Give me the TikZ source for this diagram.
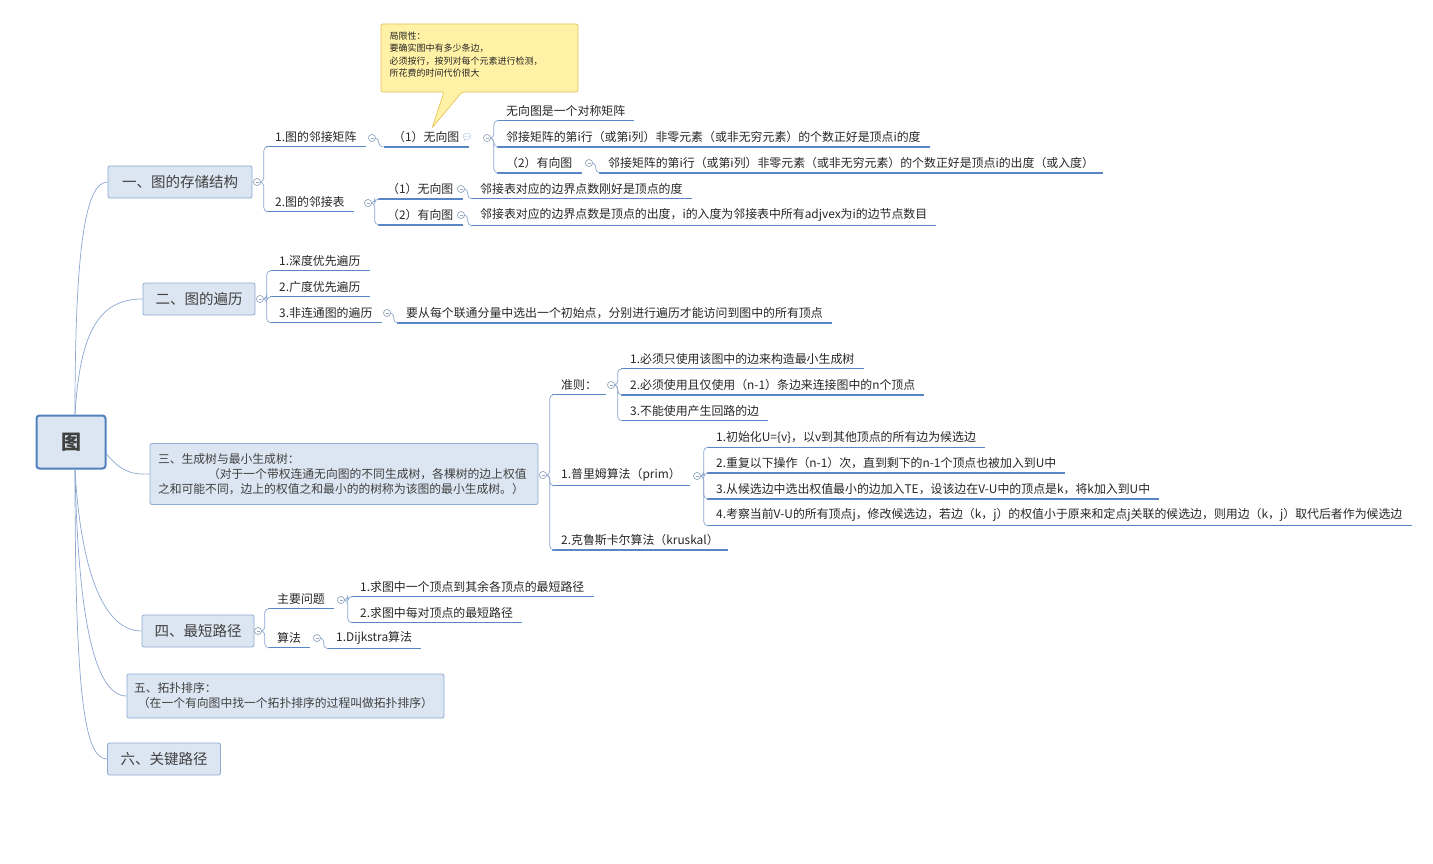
\documentclass[tikz,border=0pt]{standalone}
\usepackage{fontspec}
\setmainfont{Noto Sans CJK SC}
\newfontfamily\emo{Noto Emoji}
\definecolor{bfill}{HTML}{DCE6F2}
\definecolor{bdraw}{HTML}{8EABD3}
\definecolor{rdraw}{HTML}{4F81BD}
\definecolor{lcol}{HTML}{8BA6CF}
\definecolor{ucol}{HTML}{5A85C4}
\definecolor{tcol}{HTML}{97A9C2}
\definecolor{yfill}{HTML}{FFF1A6}
\definecolor{ydraw}{HTML}{E6C35C}
\tikzset{
 topic/.style={draw=bdraw,fill=bfill,rounded corners=2pt,line width=0.8pt,font=\fontsize{14.5}{16}\selectfont,text=black!75,inner xsep=6pt,minimum height=32pt},
 leaf/.style={anchor=west,inner xsep=9pt,inner ysep=4pt,font=\fontsize{11.9}{13}\selectfont,text=black!85},
 uline/.style={draw=ucol,line width=1.4pt},
 conn/.style={draw=lcol,line width=0.7pt,rounded corners=4pt},
 rconn/.style={draw=lcol,line width=0.7pt},
 tog/.style={circle,draw=tcol,line width=0.6pt,minimum size=7pt,inner sep=0pt,fill=white},
}
\newcommand{\ul}[1]{\draw[uline] (#1.south west) -- (#1.south east);}
\newcommand{\cn}[2]{\draw[conn] (#1.east) -- ++(3,0) |- (#2.south west);}
\begin{document}
\begin{tikzpicture}[x=1pt,y=-1pt]
\useasboundingbox (0,0) rectangle (1433,864);
% root
\node[draw=rdraw,fill=bfill,line width=2pt,rounded corners=3pt,minimum width=69pt,minimum height=53pt,font=\fontsize{20}{22}\selectfont\bfseries,text=black!75] (root) at (71,442) {图};
% level 1
\node[topic,minimum width=144pt] (t1) at (180,182) {一、图的存储结构};
\node[topic,minimum width=112pt] (t2) at (199,299) {二、图的遍历};
\node[topic,minimum width=388pt,minimum height=61pt,font=\fontsize{11.8}{15}\selectfont,align=left,text width=372pt,inner xsep=8pt] (t3) at (344,474) {三、生成树与最小生成树：\\\hspace*{50pt}（对于一个带权连通无向图的不同生成树，各棵树的边上权值\\之和可能不同，边上的权值之和最小的的树称为该图的最小生成树。）};
\node[topic,minimum width=112pt] (t4) at (198,631) {四、最短路径};
\node[topic,minimum width=317pt,minimum height=44pt,font=\fontsize{11.8}{15}\selectfont,align=left,text width=303pt] (t5) at (285.5,696) {五、拓扑排序：\\\ （在一个有向图中找一个拓扑排序的过程叫做拓扑排序）};
\node[topic,minimum width=113pt] (t6) at (164,759) {六、关键路径};
\draw[rconn] (root.north) ++(4,0) coordinate (r1) .. controls (75,250) and (85,182) .. (t1.west);
\draw[rconn] (r1) .. controls (80,330) and (100,299) .. (t2.west);
\draw[rconn] (root.east) ++(0,12) coordinate (r3) .. controls (120,470) and (130,475) .. (t3.west);
\draw[rconn] (root.south) ++(4,0) coordinate (r4) .. controls (80,560) and (100,631) .. (t4.west);
\draw[rconn] (r4) .. controls (78,620) and (95,696) .. (t5.west);
\draw[rconn] (r4) .. controls (75,700) and (85,759) .. (t6.west);
% toggles on topics
\node[tog] (c1) at (257,182) {};
\node[tog] (c2) at (260,299) {};
\node[tog] (c3) at (543,475) {};
\node[tog] (c4) at (258,631) {};
% ---- branch 1
\node[leaf] (a1) at (266,137) {1.图的邻接矩阵};
\node[tog] (ca1) at (372,138) {};
\node[leaf] (a11) at (384,137) {（1）无向图};
\node[font=\fontsize{9}{9}\selectfont\emo,text=ucol!80] (ic) at (467,137) {💬};
\node[tog] (ca11) at (487,138) {};
\node[leaf] (a111) at (497,111) {无向图是一个对称矩阵};
\node[leaf] (a112) at (497,137) {邻接矩阵的第i行（或第i列）非零元素（或非无穷元素）的个数正好是顶点i的度};
\node[leaf] (a113) at (497,163) {（2）有向图};
\node[tog] (ca113) at (589,163) {};
\node[leaf] (a1131) at (599,163) {邻接矩阵的第i行（或第i列）非零元素（或非无穷元素）的个数正好是顶点i的出度（或入度）};
\node[leaf] (a2) at (266,202) {2.图的邻接表};
\node[tog] (ca2) at (368,203) {};
\node[leaf] (a21) at (378,189) {（1）无向图};
\node[tog] (ca21) at (461,189) {};
\node[leaf] (a211) at (471,189) {邻接表对应的边界点数刚好是顶点的度};
\node[leaf] (a22) at (378,215) {（2）有向图};
\node[tog] (ca22) at (461,215) {};
\node[leaf] (a221) at (471,215) {邻接表对应的边界点数是顶点的出度，i的入度为邻接表中所有adjvex为i的边节点数目};
\foreach \n in {a1,a11,a111,a112,a113,a1131,a2,a21,a211,a22,a221} {\ul{\n}}
\cn{c1}{a1}\cn{c1}{a2}
\cn{ca1}{a11}
\cn{ca11}{a111}\cn{ca11}{a112}\cn{ca11}{a113}
\cn{ca113}{a1131}
\cn{ca2}{a21}\cn{ca2}{a22}
\cn{ca21}{a211}\cn{ca22}{a221}
% callout
\draw[draw=ydraw,fill=yfill,line width=0.7pt,rounded corners=2pt] (381,24) -- (578,24) -- (578,92) -- (462,92) -- (432,128) -- (444,92) -- (381,92) -- cycle;
\node[anchor=north west,align=left,font=\fontsize{9}{12.5}\selectfont,text=black!85] (note) at (386,28) {局限性：\\要确实图中有多少条边，\\必须按行，按列对每个元素进行检测，\\所花费的时间代价很大};
% ---- branch 2
\node[leaf] (b1) at (270,261) {1.深度优先遍历};
\node[leaf] (b2) at (270,287) {2.广度优先遍历};
\node[leaf] (b3) at (270,313) {3.非连通图的遍历};
\node[tog] (cb3) at (387,313) {};
\node[leaf] (b31) at (397,313) {要从每个联通分量中选出一个初始点，分别进行遍历才能访问到图中的所有顶点};
\foreach \n in {b1,b2,b3,b31} {\ul{\n}}
\cn{c2}{b1}\cn{c2}{b2}\cn{c2}{b3}\cn{cb3}{b31}
% ---- branch 3
\node[leaf] (d1) at (552,385) {准则：};
\node[tog] (cd1) at (611,385) {};
\node[leaf] (d11) at (621,359) {1.必须只使用该图中的边来构造最小生成树};
\node[leaf] (d12) at (621,385) {2.必须使用且仅使用（n-1）条边来连接图中的n个顶点};
\node[leaf] (d13) at (621,411) {3.不能使用产生回路的边};
\node[leaf] (d2) at (552,475) {1.普里姆算法（prim）};
\node[tog] (cd2) at (697,476) {};
\node[leaf] (d21) at (707,437) {1.初始化U=\{v\}，以v到其他顶点的所有边为候选边};
\node[leaf] (d22) at (707,463) {2.重复以下操作（n-1）次，直到剩下的n-1个顶点也被加入到U中};
\node[leaf] (d23) at (707,489) {3.从候选边中选出权值最小的边加入TE，设该边在V-U中的顶点是k，将k加入到U中};
\node[leaf] (d24) at (707,515) {4.考察当前V-U的所有顶点j，修改候选边，若边（k，j）的权值小于原来和定点j关联的候选边，则用边（k，j）取代后者作为候选边};
\node[leaf] (d3) at (552,540) {2.克鲁斯卡尔算法（kruskal）};
\foreach \n in {d1,d11,d12,d13,d2,d21,d22,d23,d24,d3} {\ul{\n}}
\cn{c3}{d1}\cn{c3}{d2}\cn{c3}{d3}
\cn{cd1}{d11}\cn{cd1}{d12}\cn{cd1}{d13}
\cn{cd2}{d21}\cn{cd2}{d22}\cn{cd2}{d23}\cn{cd2}{d24}
% ---- branch 4
\node[leaf] (e1) at (268,599) {主要问题};
\node[tog] (ce1) at (341,600) {};
\node[leaf] (e11) at (351,587) {1.求图中一个顶点到其余各顶点的最短路径};
\node[leaf] (e12) at (351,613) {2.求图中每对顶点的最短路径};
\node[leaf] (e2) at (268,638) {算法};
\node[tog] (ce2) at (317,638) {};
\node[leaf] (e21) at (327,638) {1.Dijkstra算法};
\foreach \n in {e1,e11,e12,e2,e21} {\ul{\n}}
\cn{c4}{e1}\cn{c4}{e2}\cn{ce1}{e11}\cn{ce1}{e12}\cn{ce2}{e21}
% toggles on top
\foreach \n in {c1,c2,c3,c4,ca1,ca11,ca113,ca2,ca21,ca22,cb3,cd1,cd2,ce1,ce2} {
  \path (\n) node[tog] {} node[minimum width=3pt,minimum height=0.6pt,inner sep=0pt,fill=tcol] {};}
\end{tikzpicture}
\end{document}
